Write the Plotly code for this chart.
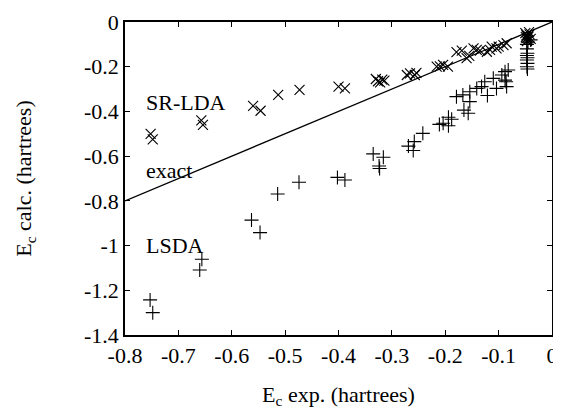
import plotly.graph_objects as go

# SR-LDA points (experimental, calculated)
srlda_exp = [-0.752, -0.748, -0.657, -0.654, -0.560, -0.546, -0.513, -0.473,
             -0.400, -0.388, -0.330, -0.326, -0.322, -0.318, -0.314,
             -0.272, -0.266, -0.257, -0.254, -0.216, -0.210, -0.204, -0.195,
             -0.179, -0.169, -0.160, -0.155, -0.147, -0.141, -0.135, -0.122,
             -0.116, -0.113, -0.104, -0.100, -0.091, -0.085,
             -0.050, -0.048, -0.046, -0.045, -0.044, -0.042, -0.040, -0.047, -0.043, -0.049]
srlda_calc = [-0.500, -0.525, -0.440, -0.460, -0.375, -0.397, -0.326, -0.304,
              -0.289, -0.297, -0.255, -0.265, -0.270, -0.258, -0.262,
              -0.237, -0.230, -0.237, -0.228, -0.200, -0.198, -0.192, -0.200,
              -0.135, -0.128, -0.162, -0.152, -0.118, -0.125, -0.128, -0.133,
              -0.125, -0.110, -0.118, -0.110, -0.103, -0.095,
              -0.050, -0.060, -0.070, -0.080, -0.065, -0.055, -0.075, -0.085, -0.045, -0.068]

# LSDA points (experimental, calculated)
lsda_exp = [-0.753, -0.748, -0.656, -0.660, -0.563, -0.547, -0.514, -0.474,
            -0.402, -0.388, -0.335, -0.316, -0.324, -0.323,
            -0.269, -0.258, -0.260, -0.242,
            -0.211, -0.204, -0.194, -0.194, -0.188,
            -0.179, -0.167, -0.165, -0.157, -0.154, -0.154,
            -0.141, -0.132, -0.126, -0.121, -0.110, -0.104, -0.094, -0.088,
            -0.086, -0.085, -0.082, -0.088,
            -0.047, -0.047, -0.046, -0.047, -0.046, -0.047, -0.046, -0.047, -0.046, -0.040, -0.045]
lsda_calc = [-1.243, -1.300, -1.061, -1.109, -0.886, -0.942, -0.769, -0.717,
             -0.695, -0.707, -0.590, -0.605, -0.644, -0.655,
             -0.555, -0.535, -0.575, -0.498,
             -0.458, -0.453, -0.464, -0.426, -0.435,
             -0.334, -0.326, -0.394, -0.408, -0.356, -0.312,
             -0.297, -0.289, -0.267, -0.329, -0.252, -0.297, -0.237, -0.222,
             -0.267, -0.289, -0.215, -0.260,
             -0.100, -0.120, -0.140, -0.150, -0.160, -0.170, -0.185, -0.200, -0.210, -0.080, -0.090]

exact_x = [-0.8, 0.0]
exact_y = [-0.8, 0.0]

x_ticks = [-0.8, -0.7, -0.6, -0.5, -0.4, -0.3, -0.2, -0.1, 0]
x_labels = ["-0.8", "-0.7", "-0.6", "-0.5", "-0.4", "-0.3", "-0.2", "-0.1", "0"]
y_ticks = [-1.4, -1.2, -1.0, -0.8, -0.6, -0.4, -0.2, 0]
y_labels = ["-1.4", "-1.2", "-1", "-0.8", "-0.6", "-0.4", "-0.2", "0"]

font = "Liberation Serif"
fs = 22

fig = go.Figure()
fig.add_trace(go.Scatter(x=exact_x, y=exact_y, mode="lines",
                         line=dict(color="black", width=1.3), showlegend=False))
fig.add_trace(go.Scatter(x=srlda_exp, y=srlda_calc, mode="markers",
                         marker=dict(symbol="x-thin", size=10, color="black",
                                     line=dict(color="black", width=1.1)),
                         showlegend=False))
fig.add_trace(go.Scatter(x=lsda_exp, y=lsda_calc, mode="markers",
                         marker=dict(symbol="cross-thin", size=10, color="black",
                                     line=dict(color="black", width=1.1)),
                         showlegend=False))

for txt, yy in [("SR-LDA", -0.36), ("exact", -0.665), ("LSDA", -1.0)]:
    fig.add_annotation(x=-0.765, y=yy, xref="x", yref="y", text=txt, showarrow=False,
                       xanchor="left", yanchor="middle",
                       font=dict(family=font, size=fs, color="black"))

axis_common = dict(showgrid=False, zeroline=False, showline=True, linecolor="black",
                   linewidth=1.5, mirror="ticks", ticks="inside", ticklen=5,
                   tickcolor="black", tickwidth=1,
                   tickfont=dict(family=font, size=fs, color="black"))

fig.update_xaxes(range=[-0.8, 0], tickvals=x_ticks, ticktext=x_labels,
                 title=dict(text="E<sub>c</sub> exp. (hartrees)", standoff=19,
                            font=dict(family=font, size=fs, color="black")),
                 **axis_common)
fig.update_yaxes(range=[-1.4, 0], tickvals=y_ticks, ticktext=y_labels,
                 title=dict(text="E<sub>c</sub> calc. (hartrees)", standoff=46,
                            font=dict(family=font, size=fs, color="black")),
                 **axis_common)

fig.update_layout(width=561, height=409, plot_bgcolor="white", paper_bgcolor="white",
                  margin=dict(l=117, r=17, t=14, b=82, autoexpand=False))

fig.write_html("out.html")
